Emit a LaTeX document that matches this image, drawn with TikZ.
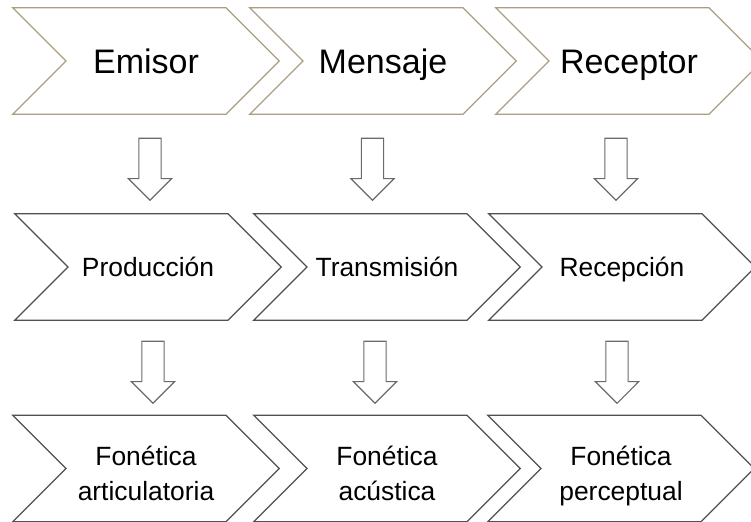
\documentclass[tikz,border=0pt]{standalone}
\usepackage{fontspec}
\setmainfont{Liberation Sans}
\usetikzlibrary{shapes,arrows,positioning}

\definecolor{sand}{RGB}{172,158,132}
\definecolor{edge}{RGB}{80,80,80}

\begin{document}
\begin{tikzpicture}[x=0.75pt,y=-0.75pt]
			\tikzstyle{Stage}	= [signal, signal from=west, signal to=east, signal pointer angle=90, draw, line width=0.9pt, fill=white, minimum width=200pt, minimum height=80pt, inner sep=0pt, align=center, text depth=0pt]
			\tikzstyle{Actor}	= [Stage, draw=sand, font=\fontsize{25.5}{30}\selectfont, text height=18.3pt]
			\tikzstyle{Phase}	= [Stage, draw=edge, font=\fontsize{19.8}{26}\selectfont, text height=14.2pt]
			\tikzstyle{Branch}	= [Phase, text height=47.3pt]
			\tikzstyle{Down}	= [single arrow, draw=edge!85, line width=0.8pt, shape border rotate=270, single arrow head extend=7.9pt, minimum height=46.5pt, inner sep=7.9pt, anchor=tip]
			
			\useasboundingbox (0,0) rectangle (751,522);
			
			\node (emisor) at (146, 61) [Actor] {Emisor};
			\node (mensaje) at (383, 61) [Actor] {Mensaje};
			\node (receptor) at (629, 61) [Actor] {Receptor};
			
			\node (produccion) at (148, 267) [Phase] {Producción};
			\node (transmision) at (387, 267) [Phase] {Transmisión};
			\node (recepcion) at (622, 267) [Phase] {Recepción};
			
			\node (articulatoria) at (146, 468.5) [Branch] {Fonética\\articulatoria};
			\node (acustica) at (387, 468.5) [Branch] {Fonética\\acústica};
			\node (perceptual) at (621, 468.5) [Branch] {Fonética\\perceptual};
			
			\node (d1) at (150, 201) [Down] {};
			\node (d2) at (372.5, 201) [Down] {};
			\node (d3) at (616, 201) [Down] {};
			\node (d4) at (153, 404) [Down] {};
			\node (d5) at (375, 404) [Down] {};
			\node (d6) at (617, 404) [Down] {};
\end{tikzpicture}
\end{document}
